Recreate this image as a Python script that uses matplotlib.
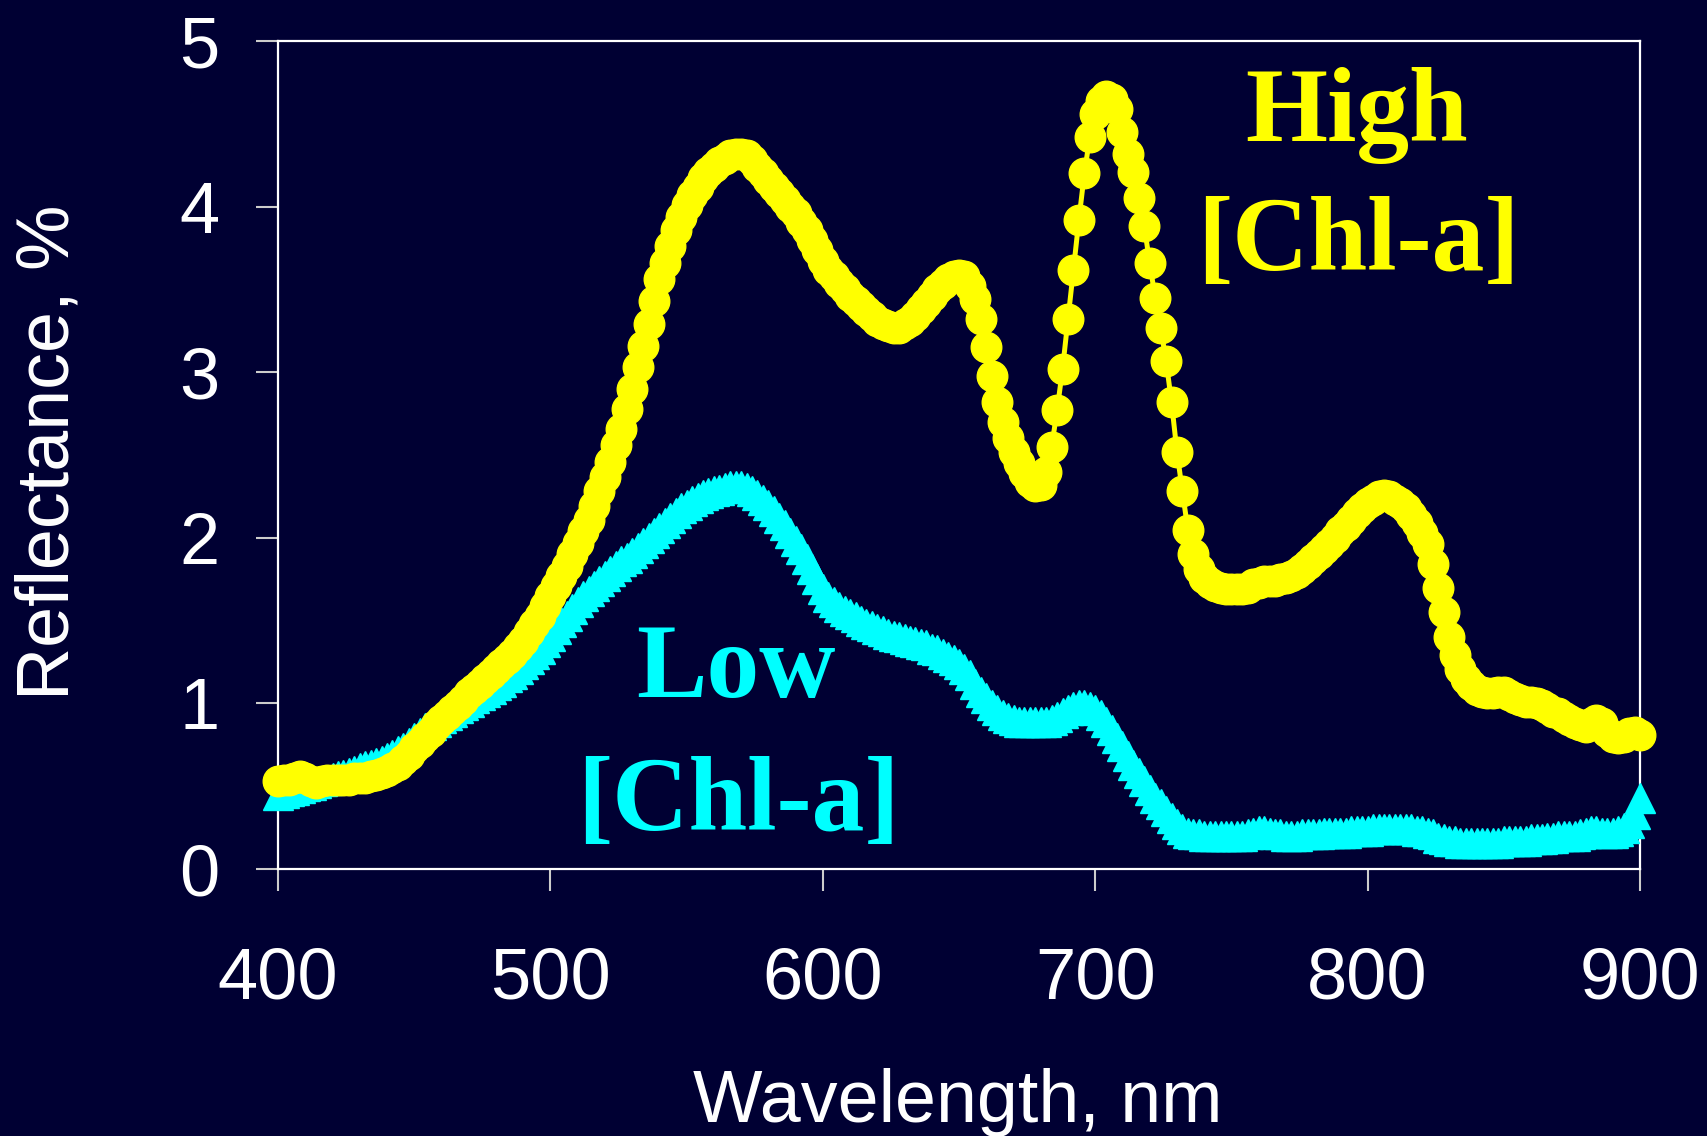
import matplotlib
matplotlib.use("Agg")
import matplotlib.pyplot as plt

# wavelength, nm (2 nm step)
wavelength = list(range(400, 901, 2))

# reflectance, % - high chlorophyll water
refl_high = [
    0.53, 0.54, 0.54, 0.55, 0.56, 0.55, 0.53, 0.52, 0.53, 0.54,  # 400
    0.54, 0.54, 0.54, 0.54, 0.55, 0.55, 0.55, 0.56, 0.57, 0.58,  # 420
    0.59, 0.61, 0.63, 0.66, 0.69, 0.73, 0.76, 0.80, 0.83, 0.87,  # 440
    0.90, 0.93, 0.96, 0.99, 1.02, 1.06, 1.09, 1.12, 1.15, 1.18,  # 460
    1.21, 1.24, 1.27, 1.30, 1.34, 1.38, 1.43, 1.48, 1.53, 1.59,  # 480
    1.65, 1.71, 1.77, 1.83, 1.90, 1.97, 2.04, 2.11, 2.19, 2.28,  # 500
    2.37, 2.46, 2.56, 2.66, 2.78, 2.90, 3.03, 3.16, 3.29, 3.43,  # 520
    3.56, 3.66, 3.76, 3.86, 3.94, 4.01, 4.07, 4.12, 4.17, 4.21,  # 540
    4.24, 4.27, 4.29, 4.31, 4.32, 4.32, 4.31, 4.28, 4.24, 4.20,  # 560
    4.16, 4.12, 4.08, 4.04, 4.00, 3.96, 3.91, 3.86, 3.80, 3.74,  # 580
    3.67, 3.62, 3.58, 3.54, 3.50, 3.46, 3.43, 3.40, 3.37, 3.34,  # 600
    3.31, 3.29, 3.28, 3.27, 3.27, 3.29, 3.31, 3.34, 3.38, 3.42,  # 620
    3.46, 3.50, 3.53, 3.56, 3.58, 3.59, 3.58, 3.52, 3.44, 3.32,  # 640
    3.15, 2.98, 2.82, 2.70, 2.60, 2.52, 2.45, 2.39, 2.34, 2.31,  # 660
    2.32, 2.40, 2.55, 2.77, 3.02, 3.32, 3.62, 3.92, 4.20, 4.42,  # 680
    4.56, 4.64, 4.67, 4.65, 4.59, 4.45, 4.32, 4.21, 4.05, 3.88,  # 700
    3.66, 3.45, 3.27, 3.07, 2.82, 2.52, 2.28, 2.05, 1.90, 1.81,  # 720
    1.76, 1.73, 1.71, 1.70, 1.69, 1.69, 1.69, 1.69, 1.70, 1.72,  # 740
    1.73, 1.74, 1.74, 1.74, 1.75, 1.76, 1.77, 1.79, 1.81, 1.84,  # 760
    1.87, 1.90, 1.93, 1.96, 2.00, 2.04, 2.07, 2.11, 2.15, 2.18,  # 780
    2.21, 2.23, 2.25, 2.26, 2.25, 2.23, 2.21, 2.18, 2.14, 2.09,  # 800
    2.03, 1.96, 1.84, 1.70, 1.55, 1.40, 1.29, 1.21, 1.15, 1.11,  # 820
    1.08, 1.07, 1.06, 1.06, 1.07, 1.07, 1.05, 1.03, 1.02, 1.01,  # 840
    1.01, 1.00, 0.99, 0.97, 0.95, 0.94, 0.92, 0.90, 0.88, 0.87,  # 860
    0.86, 0.88, 0.90, 0.88, 0.83, 0.80, 0.79, 0.80, 0.82, 0.83,  # 880
    0.81,                                                        # 900
]

# reflectance, % - low chlorophyll water
refl_low = [
    0.45, 0.46, 0.47, 0.48, 0.49, 0.50, 0.51, 0.52, 0.53, 0.54,  # 400
    0.55, 0.56, 0.57, 0.58, 0.59, 0.61, 0.62, 0.63, 0.64, 0.65,  # 420
    0.67, 0.69, 0.71, 0.73, 0.76, 0.79, 0.82, 0.85, 0.87, 0.89,  # 440
    0.91, 0.93, 0.95, 0.97, 0.99, 1.01, 1.03, 1.05, 1.07, 1.09,  # 460
    1.11, 1.13, 1.16, 1.18, 1.21, 1.24, 1.27, 1.30, 1.33, 1.37,  # 480
    1.41, 1.45, 1.49, 1.53, 1.57, 1.61, 1.65, 1.68, 1.71, 1.74,  # 500
    1.77, 1.80, 1.83, 1.86, 1.88, 1.91, 1.94, 1.97, 2.00, 2.03,  # 520
    2.06, 2.09, 2.12, 2.15, 2.18, 2.20, 2.22, 2.24, 2.26, 2.27,  # 540
    2.28, 2.29, 2.30, 2.31, 2.31, 2.31, 2.30, 2.28, 2.26, 2.23,  # 560
    2.20, 2.16, 2.12, 2.08, 2.03, 1.98, 1.93, 1.87, 1.81, 1.75,  # 580
    1.69, 1.64, 1.61, 1.58, 1.56, 1.54, 1.52, 1.50, 1.48, 1.47,  # 600
    1.45, 1.44, 1.42, 1.41, 1.40, 1.39, 1.38, 1.37, 1.36, 1.35,  # 620
    1.33, 1.32, 1.30, 1.28, 1.26, 1.24, 1.21, 1.17, 1.12, 1.07,  # 640
    1.03, 0.99, 0.96, 0.93, 0.91, 0.90, 0.89, 0.89, 0.89, 0.89,  # 660
    0.89, 0.89, 0.90, 0.92, 0.94, 0.96, 0.98, 0.99, 0.99, 0.98,  # 680
    0.96, 0.93, 0.89, 0.84, 0.79, 0.74, 0.68, 0.63, 0.58, 0.53,  # 700
    0.48, 0.43, 0.39, 0.35, 0.31, 0.27, 0.24, 0.22, 0.21, 0.21,  # 720
    0.20, 0.20, 0.20, 0.20, 0.20, 0.20, 0.20, 0.20, 0.21, 0.22,  # 740
    0.23, 0.23, 0.22, 0.21, 0.21, 0.20, 0.20, 0.20, 0.21, 0.21,  # 760
    0.21, 0.21, 0.22, 0.22, 0.22, 0.22, 0.22, 0.23, 0.23, 0.23,  # 780
    0.23, 0.24, 0.24, 0.24, 0.24, 0.24, 0.24, 0.24, 0.24, 0.23,  # 800
    0.23, 0.22, 0.21, 0.19, 0.18, 0.17, 0.17, 0.16, 0.16, 0.16,  # 820
    0.16, 0.16, 0.16, 0.16, 0.16, 0.17, 0.17, 0.17, 0.17, 0.17,  # 840
    0.18, 0.18, 0.18, 0.19, 0.19, 0.20, 0.20, 0.20, 0.20, 0.21,  # 860
    0.22, 0.23, 0.23, 0.22, 0.22, 0.22, 0.23, 0.25, 0.28, 0.33,  # 880
    0.43,                                                        # 900
]

x_ticks = [400, 500, 600, 700, 800, 900]
y_ticks = [0, 1, 2, 3, 4, 5]

bg = '#000033'
sans = ['Liberation Sans', 'DejaVu Sans']
serif = ['Liberation Serif', 'DejaVu Serif']

fig = plt.figure(figsize=(17.08, 11.36), dpi=100, facecolor=bg)
ax = fig.add_axes([0.1628, 0.235, 0.7974, 0.7289])
ax.set_facecolor(bg)

ax.plot(wavelength, refl_low, color='#00ffff', lw=3, marker='^', ms=22,
        mec='#00ffff', mfc='#00ffff', clip_on=False, zorder=3)
ax.plot(wavelength, refl_high, color='#ffff00', lw=3.6, marker='o', ms=22,
        mec='#ffff00', mfc='#ffff00', clip_on=False, zorder=4)

ax.set_xlim(400, 900)
ax.set_ylim(0, 5)
ax.set_xticks(x_ticks)
ax.set_yticks(y_ticks)
for sp in ax.spines.values():
    sp.set_color('white')
    sp.set_linewidth(1.6)
ax.tick_params(axis='both', colors='white', labelsize=52, length=16, width=1.5)
ax.tick_params(axis='x', pad=40, color='#cccccc')
ax.tick_params(axis='y', pad=26, color='#cccccc')
for lab in ax.get_xticklabels() + ax.get_yticklabels():
    lab.set_family(sans)

# curve labels
ax.text(0.792, 0.879, 'High', transform=ax.transAxes, ha='center', va='baseline',
        color='#ffff00', fontsize=76, fontweight='bold', family=serif)
ax.text(0.793, 0.724, '[Chl-a]', transform=ax.transAxes, ha='center', va='baseline',
        color='#ffff00', fontsize=76, fontweight='bold', family=serif)
ax.text(0.336, 0.208, 'Low', transform=ax.transAxes, ha='center', va='baseline',
        color='#00ffff', fontsize=76, fontweight='bold', family=serif)
ax.text(0.338, 0.047, '[Chl-a]', transform=ax.transAxes, ha='center', va='baseline',
        color='#00ffff', fontsize=76, fontweight='bold', family=serif)

fig.text(0.561, 0.0123, 'Wavelength, nm', ha='center', va='baseline',
         color='white', fontsize=53, family=sans)
fig.text(0.0287, 0.602, 'Reflectance, %', ha='center', va='center', rotation=90,
         color='white', fontsize=53, family=sans)

fig.savefig('out.png', dpi=100, facecolor=bg)
